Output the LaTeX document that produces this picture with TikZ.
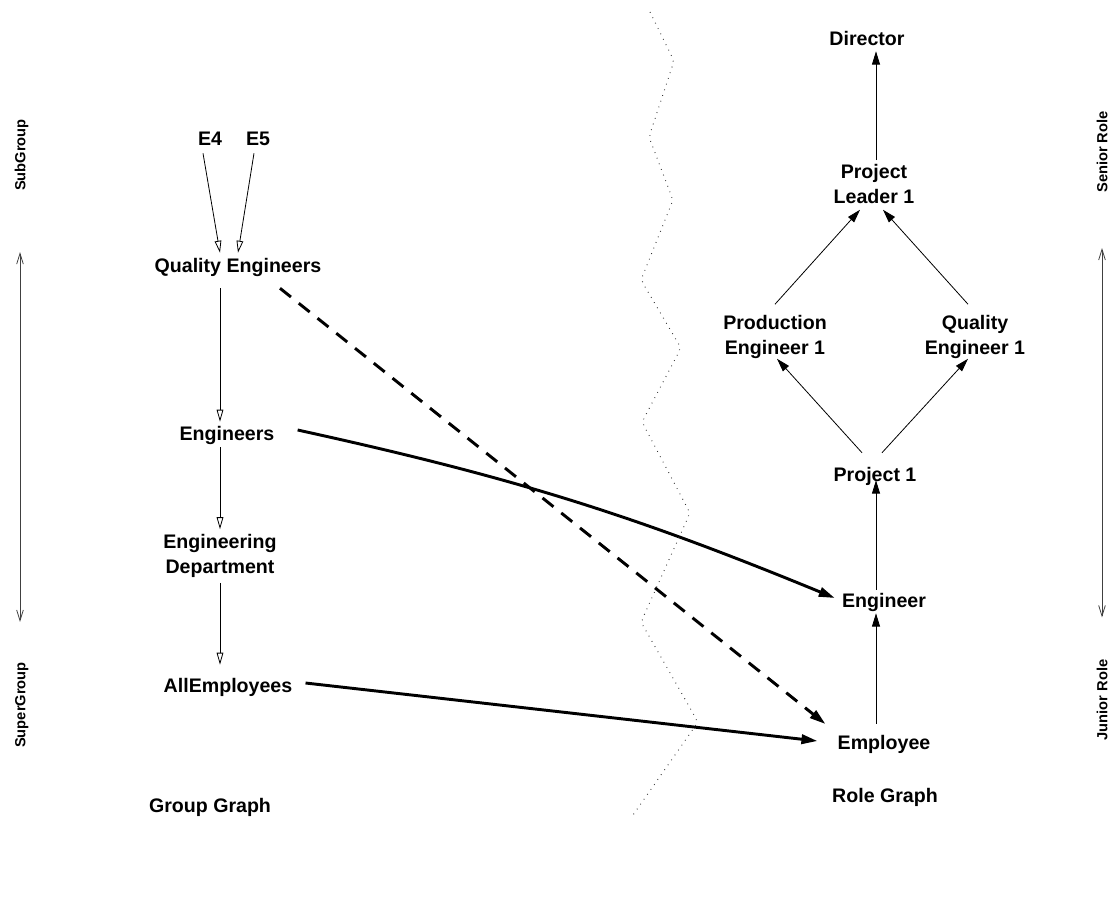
\documentclass[tikz,border=0pt]{standalone}
\usepackage{fontspec}
\setmainfont{Liberation Sans}
\usetikzlibrary{arrows.meta,calc}
\begin{document}
\begin{tikzpicture}[x=0.75pt,y=-0.75pt,
  lbl/.style={font=\bfseries\fontsize{14.7}{18.75}\selectfont, inner sep=0pt, text height=10.5pt, text depth=0pt, align=center},
  lbltwo/.style={lbl, text height=29.25pt},
  side/.style={font=\bfseries\fontsize{11}{13}\selectfont, inner sep=0pt, text height=7.9pt, text depth=0pt, rotate=90},
  inh/.style={line width=0.6pt, -{Triangle[open,length=9pt,width=5pt]}},
  rarr/.style={line width=0.6pt, -{Triangle[length=10pt,width=6pt]}},
  thickarr/.style={line width=2.2pt, -{Triangle[length=12pt,width=7pt]}},
  axisarr/.style={line width=0.6pt, draw=black!75, {Straight Barb[length=8pt,width=5pt]}-{Straight Barb[length=8pt,width=5pt]}},
  zig/.style={line width=0.7pt, dash pattern=on 0.6pt off 3.9pt, draw=black!80}
]
\useasboundingbox (0,0) rectangle (1115,907);
\coordinate (lx) at (220,0);
\coordinate (rx) at (876,0);

% group graph
\node[lbl] (e4) at (210,138) {E4};
\node[lbl] (e5) at (258,138) {E5};
\node[lbl] (qe) at (238,265) {Quality Engineers};
\node[lbl] (eng) at (227,433) {Engineers};
\node[lbltwo] (ed) at (220,554) {Engineering\\Department};
\node[lbl] (all) at (228,685) {AllEmployees};

% role graph
\node[lbl] (dir) at (867,38) {Director};
\node[lbltwo] (pl) at (874,184) {Project\\Leader 1};
\node[lbltwo] (pe) at (775,335) {Production\\Engineer 1};
\node[lbltwo] (qe1) at (975,335) {Quality\\Engineer 1};
\node[lbl] (p1) at (875,474) {Project 1};
\node[lbl] (engr) at (884,600) {Engineer};
\node[lbl] (emp) at (884,742) {Employee};

% titles
\node[lbl] (gg) at (210,805) {Group Graph};
\node[lbl] (rg) at (885,795) {Role Graph};

% side labels
\node[side] (sub) at (20,155) {SubGroup};
\node[side] (super) at (20,705) {SuperGroup};
\node[side] (sen) at (1102,152) {Senior Role};
\node[side] (jun) at (1102,700) {Junior Role};

% group edges
\draw[inh] ($(e4.south)+(-7,8)$) -- ($(qe.north)+(-18,-5)$);
\draw[inh] ($(e5.south)+(-4,8)$) -- ($(qe.north)+(0,-5)$);
\draw[inh] ($(qe.south -| lx)+(0,16)$) -- ($(eng.north -| lx)+(0,-4)$);
\draw[inh] ($(eng.south -| lx)+(0,7)$) -- ($(ed.north -| lx)+(0,-5)$);
\draw[inh] ($(ed.south -| lx)+(0,9)$) -- ($(all.north -| lx)+(0,-13)$);

% role edges
\draw[rarr] ($(emp.north -| rx)+(0,-11)$) -- ($(engr.south -| rx)+(0,6)$);
\draw[rarr] ($(engr.north -| rx)+(0,-3)$) -- ($(p1.south -| rx)+(0,-1)$);
\draw[rarr] ($(pl.north -| rx)+(0,-4)$) -- ($(dir.south -| rx)+(0,6)$);
\draw[rarr] ($(p1.north)+(-13,-14)$) -- ($(pe.south)+(2,4)$);
\draw[rarr] ($(p1.north)+(7,-14)$) -- ($(qe1.south)+(-7,4)$);
\draw[rarr] ($(pe.north)+(0,-11)$) -- ($(pl.south)+(-14,6)$);
\draw[rarr] ($(qe1.north)+(-7,-11)$) -- ($(pl.south)+(9,6)$);

% assignments
\draw[thickarr] ($(eng.east)+(23,-3)$) to[bend left=5] ($(engr.west)+(-7,-2)$);
\draw[thickarr, dash pattern=on 10.5pt off 7.5pt] ($(qe.south)+(42,16)$) -- ($(emp.west)+(-12,-18)$);
\draw[thickarr] ($(all.east)+(13,-2)$) -- ($(emp.west)+(-20,-1)$);

% axes
\draw[axisarr] ($(sub.west)+(0,61)$) -- ($(super.east)+(0,-40)$);
\draw[axisarr] ($(sen.west)+(0,55)$) -- ($(jun.east)+(0,-42)$);

% separator
\draw[zig, rounded corners=3pt] (650,12) -- (674,61) -- (649,137) -- (673,200) -- (641,280) -- (681,348) -- (642,422) -- (690,513) -- (641,622) -- (698,722) -- (633,815);
\end{tikzpicture}
\end{document}
